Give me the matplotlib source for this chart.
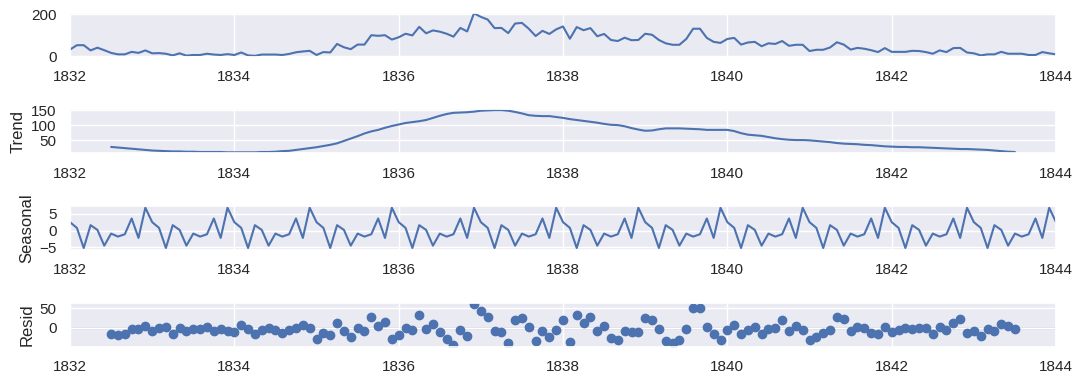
#!/usr/bin/env python3
"""Seasonal decomposition panels (observed / trend / seasonal / resid), 1832-1844."""

import matplotlib
matplotlib.use('Agg')
import matplotlib.pyplot as plt
import numpy as np
import seaborn as sns

sns.set_theme()
plt.rcParams['font.family'] = ['Liberation Sans', 'DejaVu Sans']

START_YEAR = 1832
END_YEAR = 1844

# monthly values, one row per year (Jan..Dec), last row is Jan 1844
observed = [
    31, 52, 52, 27, 40, 28, 15, 8, 8, 20, 15, 27,
    13, 14, 11, 3, 13, 2, 5, 5, 11, 7, 5, 9,
    5, 17, 3, 1, 7, 7, 7, 5, 10, 18, 22, 25,
    5, 19, 17, 58, 42, 33, 55, 55, 100, 97, 100, 79,
    90, 107, 99, 140, 109, 123, 117, 107, 93, 135, 118, 205,
    188, 175, 134, 135, 110, 156, 159, 131, 96, 121, 106, 128,
    142, 83, 139, 124, 134, 95, 106, 77, 72, 88, 76, 77,
    107, 102, 77, 61, 54, 54, 82, 131, 131, 87, 68, 63,
    82, 87, 55, 65, 68, 47, 61, 58, 72, 49, 54, 54,
    24, 30, 30, 41, 66, 55, 31, 39, 35, 28, 19, 38,
    20, 20, 20, 25, 24, 19, 11, 27, 19, 38, 39, 17,
    13, 3, 8, 8, 20, 11, 11, 11, 5, 5, 19, 13,
    8,
]

# trend and residual exist from Jul 1832 to Jul 1843
EDGE = 6
trend = [
    27, 25, 23, 21, 19, 17,
    15, 14, 13, 12, 12, 11, 11, 10, 10, 10, 10, 9,
    9, 9, 9, 9, 10, 10, 11, 13, 14, 17, 20, 23,
    26, 30, 34, 39, 47, 55, 63, 72, 79, 84, 91, 97,
    102, 107, 110, 113, 117, 124, 131, 137, 141, 142, 143, 145,
    148, 149, 150, 150, 148, 144, 139, 133, 131, 130, 130, 127,
    124, 120, 117, 114, 111, 108, 104, 101, 100, 96, 90, 85,
    81, 82, 86, 89, 89, 89, 88, 87, 86, 84, 84, 84,
    84, 80, 73, 68, 66, 64, 60, 56, 53, 51, 50, 50,
    49, 47, 45, 43, 40, 38, 37, 36, 34, 33, 31, 29,
    28, 27, 27, 26, 26, 25, 24, 23, 22, 21, 20, 20,
    19, 18, 17, 15, 13, 11, 10,
]

resid = [
    -15, -17.5, -16, -2.5, -2.5, 6,
    -8, 0, 1.7, -15, 0, -8, -2.5, -2.5, 3.3, -8, -2.5, -8,
    -10.8, 8.3, -2.5, -15, -5, -0.8, -6.7, -12.5, -5, 0, 8.3, 0,
    -27.5, -12.5, -18, 12.5, -9, -22.5, -0.8, -9, 28, 5.8, 14, -27.5,
    -17.5, 0.8, -5, 32.5, -3.3, 10.8, -11.7, -27.5, -44, -6.7, -20, 60,
    42.5, 26.7, -9, -10.8, -38, 20, 25, 3.3, -34, -9, -22.5, -6.7,
    20, -36.7, 33, 12.5, 26.7, -9, 5.8, -25, -30, -9, -10.8, -10.8,
    25, 21, -4, -32.5, -38, -31.7, -2.5, 50, 51.7, 2.5, -15, -30,
    -4.5, 8.3, -15, -5, 1.7, -15, -2.5, 0, 20, -7.5, 5.8, -5,
    -31.7, -23, -13, -5, 28, 22.5, -7.5, 3.3, 0, -12.5, -15, 1.7,
    -10.8, -5.8, 0, -2.5, -0.8, -0.8, -15, 3.3, -5, 12.5, 22.5, -12.5,
    -9, -20, -2.5, -9, 10, 4, -2.5,
]

# one year of the seasonal component, Jan..Dec
seasonal_pattern = [2.5, 0.8, -5.2, 1.6, 0.2, -4.5, -0.9, -1.8, -1.1, 3.6, -2.2, 6.8]

year_ticks = list(range(START_YEAR, END_YEAR + 1, 2))


def main() -> None:
    n = len(observed)
    x = START_YEAR + np.arange(n) / 12.0
    x_mid = x[EDGE:EDGE + len(trend)]
    seasonal = np.tile(seasonal_pattern, n // 12 + 1)[:n]

    color = sns.color_palette('deep')[0]

    fig, axes = plt.subplots(4, 1, figsize=(10.84, 3.85), dpi=100)
    fig.subplots_adjust(left=0.0646, right=0.9742, top=0.967, bottom=0.0995, hspace=1.2)
    ax_obs, ax_trend, ax_seas, ax_res = axes

    ax_obs.plot(x, observed, color=color)
    ax_obs.set_ylim(-3, 208)
    ax_obs.set_yticks([0, 200])

    ax_trend.plot(x_mid, trend, color=color)
    ax_trend.set_ylabel('Trend')
    ax_trend.set_ylim(5.6, 152.5)
    ax_trend.set_yticks([50, 100, 150])

    ax_seas.plot(x, seasonal, color=color)
    ax_seas.set_ylabel('Seasonal')
    ax_seas.set_ylim(-5.8, 7.3)
    ax_seas.set_yticks([-5, 0, 5])

    ax_res.plot(x_mid, resid, marker='o', linestyle='none', color=color)
    ax_res.plot([START_YEAR, END_YEAR], [0, 0], color='#000000', linewidth=0.8, zorder=-3)
    ax_res.set_ylabel('Resid')
    ax_res.set_ylim(-48, 64)
    ax_res.set_yticks([0, 50])

    for ax in axes:
        ax.set_xlim(START_YEAR, END_YEAR)
        ax.set_xticks(year_ticks)
        ax.set_xticklabels([str(y) for y in year_ticks])

    fig.savefig('out.png', dpi=100, facecolor='white')
    plt.close(fig)


if __name__ == '__main__':
    main()
